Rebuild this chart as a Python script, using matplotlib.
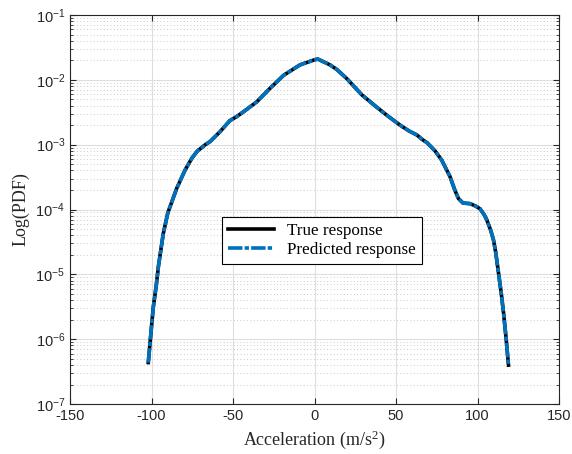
import numpy as np
import matplotlib
matplotlib.use("Agg")
import matplotlib.pyplot as plt
from matplotlib.ticker import LogLocator, NullFormatter

plt.rcParams["font.family"] = ["Liberation Sans", "DejaVu Sans"]
plt.rcParams["axes.unicode_minus"] = False

# Acceleration (m/s^2) and probability density of the response
accel = [-102, -100, -98.9, -97, -95.8, -92.8, -90, -88.7, -84.5, -79.4,
         -75.3, -72, -70, -67, -64, -58, -52, -48, -44, -35.5,
         -27.3, -19, -9, 0, 2, 9.5, 13.6, 19.7, 28.9, 38,
         45, 52.5, 58, 62.7, 66, 69, 74, 78, 80, 83,
         86, 88.2, 91, 95.4, 99, 101.5, 104, 105.6, 108, 109.7,
         111, 112.8, 114.5, 115.9, 117.5, 118.9]
log_pdf = [-6.36, -5.80, -5.50, -5.15, -4.88, -4.37, -4.05, -3.96, -3.67, -3.39,
           -3.21, -3.10, -3.06, -3.00, -2.95, -2.80, -2.63, -2.57, -2.50, -2.34,
           -2.13, -1.93, -1.77, -1.69, -1.68, -1.77, -1.84, -1.98, -2.23, -2.42,
           -2.56, -2.70, -2.79, -2.85, -2.92, -2.97, -3.10, -3.24, -3.34, -3.49,
           -3.70, -3.83, -3.90, -3.91, -3.95, -3.99, -4.08, -4.16, -4.32, -4.47,
           -4.65, -4.98, -5.30, -5.60, -6.00, -6.40]
pdf_true = 10.0 ** np.array(log_pdf)
pdf_pred = pdf_true.copy()

series_labels = ["True response", "Predicted response"]

fig = plt.figure(figsize=(5.72, 4.54), dpi=100)
ax = fig.add_axes([0.1224, 0.110, 0.8552, 0.857])

ax.plot(accel, pdf_true, color="black", lw=2.6, label=series_labels[0])
ax.plot(accel, pdf_pred, color=(0.0, 0.447, 0.741), lw=2.6,
        dashes=(4.0, 0.6, 1.2, 0.6), label=series_labels[1])

ax.set_yscale("log")
ax.set_xlim(-150, 150)
ax.set_ylim(1e-7, 1e-1)
ax.set_xticks(np.arange(-150, 151, 50))
ax.yaxis.set_major_locator(LogLocator(base=10, numticks=10))
ax.yaxis.set_minor_locator(LogLocator(base=10, subs=np.arange(2, 10), numticks=20))
ax.yaxis.set_minor_formatter(NullFormatter())

axcol = (0.15, 0.15, 0.15)
ax.tick_params(which="both", direction="in", top=True, right=True,
               colors=axcol, labelsize=10.5)
ax.tick_params(which="major", length=4)
ax.tick_params(which="minor", length=2)
for s in ax.spines.values():
    s.set_color(axcol)
    s.set_linewidth(0.8)

ax.grid(True, which="major", color=(0.87, 0.87, 0.87), lw=0.8)
ax.grid(True, which="minor", axis="y", color=(0.72, 0.72, 0.72), lw=0.6,
        linestyle=(0, (1, 3)))
ax.set_axisbelow(True)

ax.set_xlabel(r"Acceleration (m/s$\mathdefault{^{2}}$)",
              fontfamily="Liberation Serif", fontsize=13, color=axcol,
              labelpad=4)
ax.set_ylabel("Log(PDF)", fontfamily="Liberation Serif", fontsize=13,
              color=axcol, labelpad=4)

leg = ax.legend(loc="center", bbox_to_anchor=(0.515, 0.42), fancybox=False,
                framealpha=1, edgecolor="black",
                prop={"family": "Liberation Serif", "size": 12.3},
                handlelength=2.7, borderpad=0.35, labelspacing=0.15,
                handletextpad=0.8)
leg.get_frame().set_linewidth(0.8)

fig.savefig("out.png", dpi=100)
